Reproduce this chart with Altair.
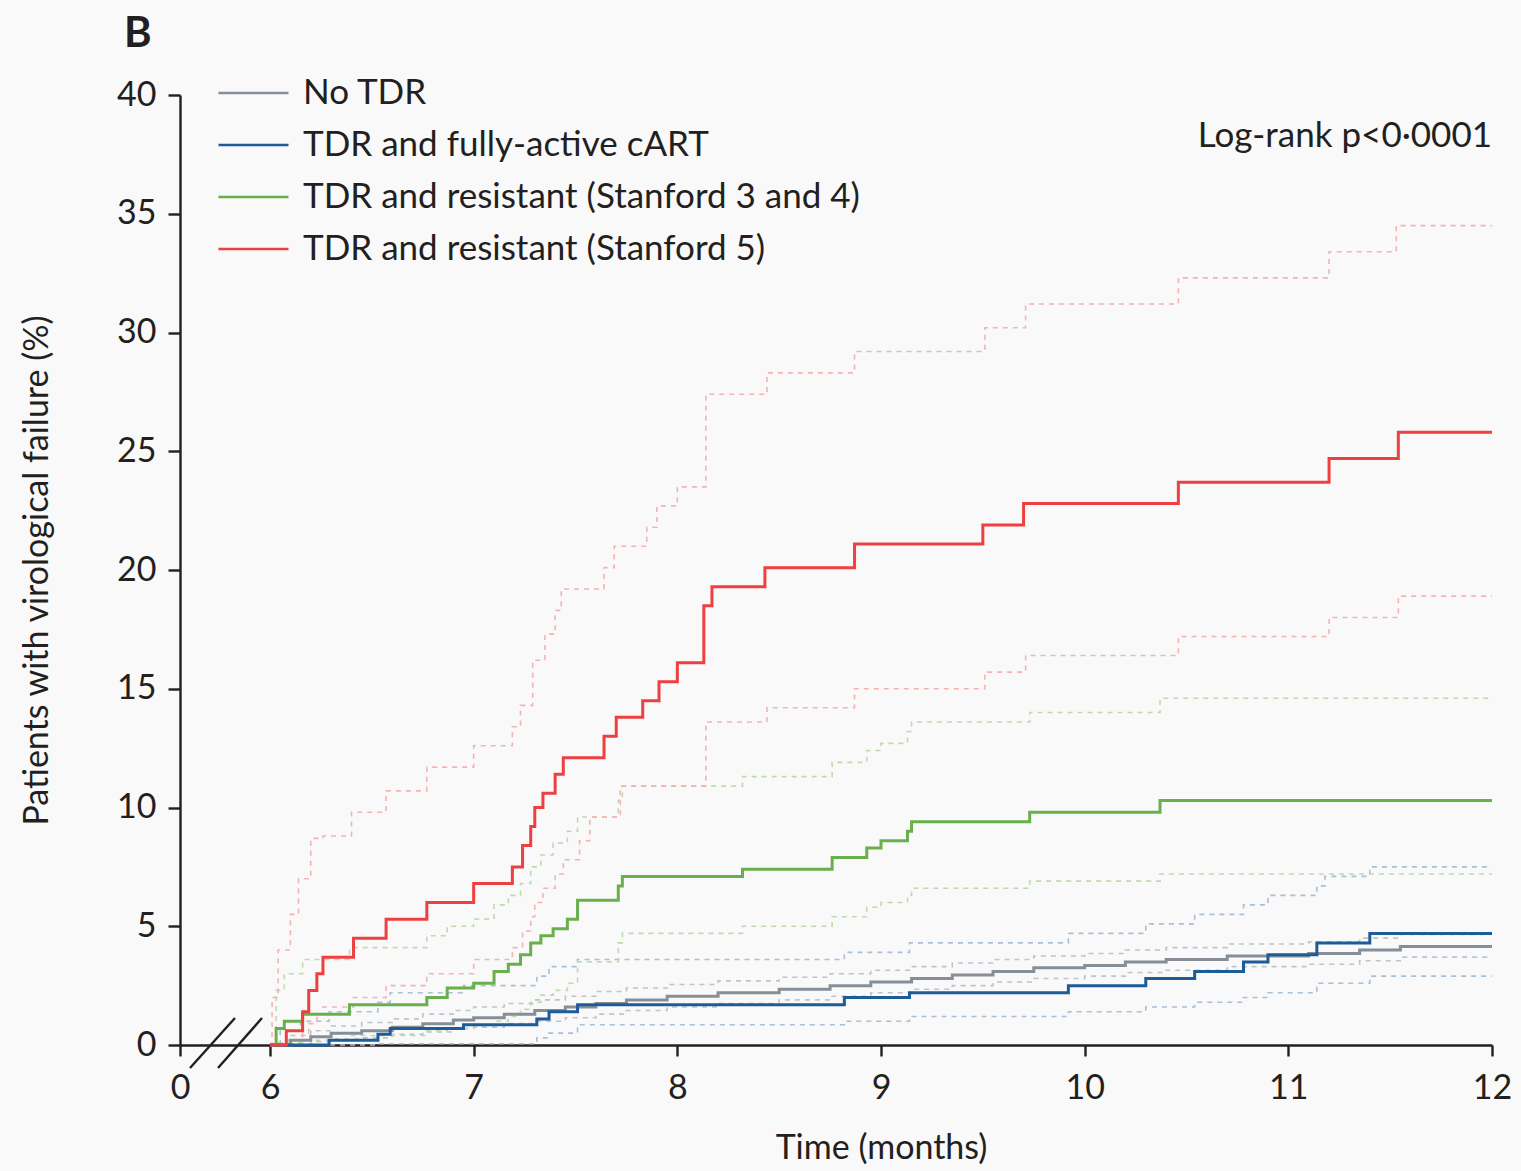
import altair as alt
import pandas as pd

# ---------------- data ----------------
X_ORIGIN = 5.558  # left end of the broken time axis, labelled "0"
X_END = 12.0

GROUPS = [
    "No TDR",
    "TDR and fully-active cART",
    "TDR and resistant (Stanford 3 and 4)",
    "TDR and resistant (Stanford 5)",
]
SOLID_COLORS = ["#868f98", "#1d5c98", "#69b04d", "#ee4040"]
CI_COLORS = ["#bfc4ca", "#a9bfd6", "#bfdaae", "#f4b3b3"]

X_TICKS = [X_ORIGIN, 6, 7, 8, 9, 10, 11, 12]
Y_TICKS = [0, 5, 10, 15, 20, 25, 30, 35, 40]

# No TDR
no_tdr_t = [6.0, 6.1, 6.2, 6.3, 6.45, 6.6, 6.75, 6.9, 7.0, 7.15, 7.3, 7.45, 7.6, 7.75, 7.95,
            8.2, 8.5, 8.75, 8.95, 9.15, 9.35, 9.55, 9.75, 10.0, 10.2, 10.4, 10.7, 11.1,
            11.35, 11.55]
no_tdr_est = [0, 0.2, 0.35, 0.5, 0.6, 0.75, 0.9, 1.05, 1.15, 1.3, 1.45, 1.6, 1.75, 1.9, 2.05,
              2.2, 2.35, 2.5, 2.65, 2.8, 2.95, 3.1, 3.25, 3.35, 3.5, 3.6, 3.75, 3.85,
              4.0, 4.15]
no_tdr_hi = [0, 0.4, 0.6, 0.8, 0.95, 1.1, 1.3, 1.45, 1.6, 1.75, 1.9, 2.05, 2.25, 2.4, 2.55,
             2.7, 2.85, 3.0, 3.15, 3.3, 3.45, 3.6, 3.75, 3.85, 4.0, 4.1, 4.25, 4.35,
             4.5, 4.65]
no_tdr_lo = [0, 0.05, 0.15, 0.25, 0.3, 0.45, 0.55, 0.7, 0.75, 0.9, 1.0, 1.15, 1.3, 1.45, 1.6,
             1.75, 1.9, 2.05, 2.2, 2.35, 2.5, 2.65, 2.8, 2.9, 3.05, 3.15, 3.3, 3.4,
             3.55, 3.7]

# TDR and fully-active cART
cart_t = [6.0, 6.29, 6.53, 6.59, 6.95, 7.31, 7.37, 7.51, 8.82, 9.14, 9.92, 10.30, 10.54,
          10.78, 10.90, 11.14, 11.40]
cart_est = [0, 0.2, 0.45, 0.7, 0.85, 1.1, 1.4, 1.7, 2.0, 2.2, 2.5, 2.8, 3.1, 3.5, 3.8, 4.3, 4.7]
cart_hi_t = [6.0, 6.05, 6.15, 6.29, 6.53, 6.59, 6.95, 7.31, 7.37, 7.51, 8.82, 9.14, 9.92,
             10.30, 10.54, 10.78, 10.90, 11.14, 11.18, 11.40]
cart_hi = [0, 0.6, 1.0, 1.4, 1.8, 2.2, 2.5, 2.9, 3.3, 3.6, 3.9, 4.3, 4.7, 5.1, 5.5, 5.9, 6.3,
           6.7, 7.1, 7.5]
cart_lo_t = [6.0, 6.53, 7.31, 7.37, 7.51, 8.82, 9.14, 9.92, 10.30, 10.54, 10.78, 10.90,
             11.14, 11.40]
cart_lo = [0, 0.05, 0.3, 0.5, 0.85, 1.0, 1.2, 1.4, 1.6, 1.8, 2.0, 2.2, 2.6, 2.9]

# TDR and resistant (Stanford 3 and 4)
s34_t = [6.0, 6.03, 6.07, 6.16, 6.39, 6.77, 6.87, 7.0, 7.1, 7.17, 7.23, 7.28, 7.33, 7.39,
         7.46, 7.51, 7.71, 7.73, 8.32, 8.76, 8.93, 9.0, 9.13, 9.15, 9.73, 10.37]
s34_est = [0, 0.7, 1.0, 1.3, 1.7, 2.0, 2.4, 2.6, 3.1, 3.4, 3.8, 4.3, 4.6, 4.9, 5.3, 6.1,
           6.7, 7.1, 7.4, 7.9, 8.3, 8.6, 9.0, 9.4, 9.8, 10.3]
s34_hi = [0, 2.3, 3.0, 3.6, 4.1, 4.6, 5.0, 5.3, 5.9, 6.3, 6.8, 7.5, 8.0, 8.5, 9.0, 9.6,
          10.3, 10.9, 11.3, 11.9, 12.4, 12.7, 13.2, 13.6, 14.0, 14.6]
s34_lo = [0, 0.1, 0.1, 0.2, 0.4, 0.6, 0.7, 0.8, 1.0, 1.2, 1.5, 1.8, 2.1, 2.3, 2.6, 3.5,
          4.3, 4.7, 5.0, 5.4, 5.8, 6.0, 6.3, 6.6, 6.9, 7.2]

# TDR and resistant (Stanford 5)
s5_t = [6.0, 6.08, 6.16, 6.19, 6.23, 6.26, 6.41, 6.57, 6.77, 7.0, 7.19, 7.24, 7.28, 7.30,
        7.34, 7.40, 7.44, 7.64, 7.70, 7.83, 7.91, 8.0, 8.13, 8.17, 8.43, 8.87, 9.50, 9.70,
        10.46, 11.20, 11.54]
s5_est = [0, 0.6, 1.4, 2.3, 3.0, 3.7, 4.5, 5.3, 6.0, 6.8, 7.5, 8.4, 9.2, 10.0, 10.6, 11.4,
          12.1, 13.0, 13.8, 14.5, 15.3, 16.1, 18.5, 19.3, 20.1, 21.1, 21.9, 22.8, 23.7,
          24.7, 25.8]
s5_hi_t = [6.0, 6.01, 6.04, 6.1, 6.14, 6.2, 6.26, 6.4, 6.57, 6.77, 7.0, 7.19, 7.23, 7.29,
           7.35, 7.40, 7.43, 7.64, 7.69, 7.85, 7.90, 8.0, 8.14, 8.44, 8.87, 9.51, 9.71,
           10.46, 11.20, 11.53]
s5_hi = [0, 2.0, 4.0, 5.5, 7.0, 8.7, 8.8, 9.8, 10.7, 11.7, 12.6, 13.4, 14.3, 16.2, 17.3,
         18.3, 19.2, 20.1, 21.0, 21.8, 22.7, 23.5, 27.4, 28.3, 29.2, 30.2, 31.2, 32.3,
         33.4, 34.5]
s5_lo_t = [6.0, 6.08, 6.16, 6.19, 6.23, 6.26, 6.41, 6.57, 6.77, 7.0, 7.19, 7.24, 7.28,
           7.30, 7.34, 7.40, 7.44, 7.52, 7.57, 7.72, 8.14, 8.44, 8.87, 9.51, 9.71, 10.46,
           11.20, 11.54]
s5_lo = [0, 0.2, 0.5, 0.9, 1.3, 1.6, 2.0, 2.5, 3.0, 3.6, 4.1, 4.8, 5.4, 6.0, 6.6, 7.2,
         7.8, 8.6, 9.6, 10.9, 13.6, 14.2, 15.0, 15.7, 16.4, 17.2, 18.0, 18.9]

# ---------------- table ----------------
rows = []


def add(group, kind, ts, vs):
    for t, v in zip(list(ts) + [X_END], list(vs) + [vs[-1]]):
        rows.append({"group": group, "kind": kind, "t": t, "v": v})


add(GROUPS[0], "est", no_tdr_t, no_tdr_est)
add(GROUPS[0], "hi", no_tdr_t, no_tdr_hi)
add(GROUPS[0], "lo", no_tdr_t, no_tdr_lo)
add(GROUPS[1], "est", cart_t, cart_est)
add(GROUPS[1], "hi", cart_hi_t, cart_hi)
add(GROUPS[1], "lo", cart_lo_t, cart_lo)
add(GROUPS[2], "est", s34_t, s34_est)
add(GROUPS[2], "hi", s34_t, s34_hi)
add(GROUPS[2], "lo", s34_t, s34_lo)
add(GROUPS[3], "est", s5_t, s5_est)
add(GROUPS[3], "hi", s5_hi_t, s5_hi)
add(GROUPS[3], "lo", s5_lo_t, s5_lo)

df = pd.DataFrame(rows)

FONT = "Lato"
TXT = "#231f20"

x_enc = alt.X(
    "t:Q",
    scale=alt.Scale(domain=[X_ORIGIN, X_END], nice=False, zero=False),
    axis=alt.Axis(
        values=X_TICKS,
        labelExpr="datum.value < 6 ? '0' : datum.label",
        labelFlush=False,
        labelOverlap=False,
        title="Time (months)",
        titleX=701,
        titleY=113,
        titleAlign="center",
        titleBaseline="alphabetic",
        tickSize=11,
        labelPadding=15,
    ),
)
y_enc = alt.Y(
    "v:Q",
    scale=alt.Scale(domain=[0, 40], nice=False),
    axis=alt.Axis(
        values=Y_TICKS,
        labelFlush=False,
        labelOverlap=False,
        title="Patients with virological failure (%)",
        titleAngle=270,
        titleX=-133,
        titleY=475,
        titleAlign="center",
        titleBaseline="alphabetic",
        tickSize=12,
        labelPadding=12,
    ),
)

base = alt.Chart(df)

ci = base.transform_filter(alt.datum.kind != "est").mark_line(
    interpolate="step-after", strokeWidth=1.6, strokeDash=[5, 5]
).encode(
    x=x_enc,
    y=y_enc,
    color=alt.Color("group:N", scale=alt.Scale(domain=GROUPS, range=CI_COLORS), legend=None),
    detail="kind:N",
)

est = base.transform_filter(alt.datum.kind == "est").mark_line(
    interpolate="step-after", strokeWidth=3
).encode(
    x=x_enc,
    y=y_enc,
    color=alt.Color(
        "group:N",
        scale=alt.Scale(domain=GROUPS, range=SOLID_COLORS),
        legend=alt.Legend(
            title=None,
            orient="none",
            legendX=37,
            legendY=-19,
            symbolType="stroke",
            symbolSize=4900,
            symbolStrokeWidth=2.7,
            clipHeight=34,
            rowPadding=17,
            labelOffset=13,
            labelFontSize=35,
            labelFont=FONT,
            labelColor=TXT,
            labelLimit=0,
        ),
    ),
    order=alt.Order("group:N"),
)

slash1 = alt.Chart().mark_rule(color=TXT, strokeWidth=2.4).encode(
    x=alt.value(10), x2=alt.value(55), y=alt.value(973), y2=alt.value(923)
)
slash2 = alt.Chart().mark_rule(color=TXT, strokeWidth=2.4).encode(
    x=alt.value(38), x2=alt.value(82), y=alt.value(973), y2=alt.value(923)
)

logrank = alt.Chart().mark_text(
    text="Log-rank p<0·0001", align="right", baseline="alphabetic",
    font=FONT, fontSize=35, color=TXT,
).encode(x=alt.value(1312), y=alt.value(52))

panel = alt.Chart().mark_text(
    text="B", align="left", baseline="alphabetic",
    font=FONT, fontSize=42, fontWeight="bold", color=TXT,
).encode(x=alt.value(-56), y=alt.value(-48))

chart = (
    alt.layer(ci, est, slash1, slash2, logrank, panel)
    .resolve_scale(color="independent")
    .properties(
        width=1312,
        height=950,
        autosize=alt.AutoSizeParams(type="none"),
        padding={"left": 180, "top": 95, "right": 29, "bottom": 126},
        background="#f9f9f9",
    )
    .configure_view(stroke=None)
    .configure_axis(
        grid=False,
        domainColor=TXT,
        domainWidth=2.4,
        tickColor=TXT,
        tickWidth=2.4,
        labelFont=FONT,
        labelFontSize=34,
        labelColor=TXT,
        titleFont=FONT,
        titleFontSize=34,
        titleFontWeight="normal",
        titleColor=TXT,
    )
)

chart.save("out.html", embed_options={"renderer": "svg", "actions": False})
